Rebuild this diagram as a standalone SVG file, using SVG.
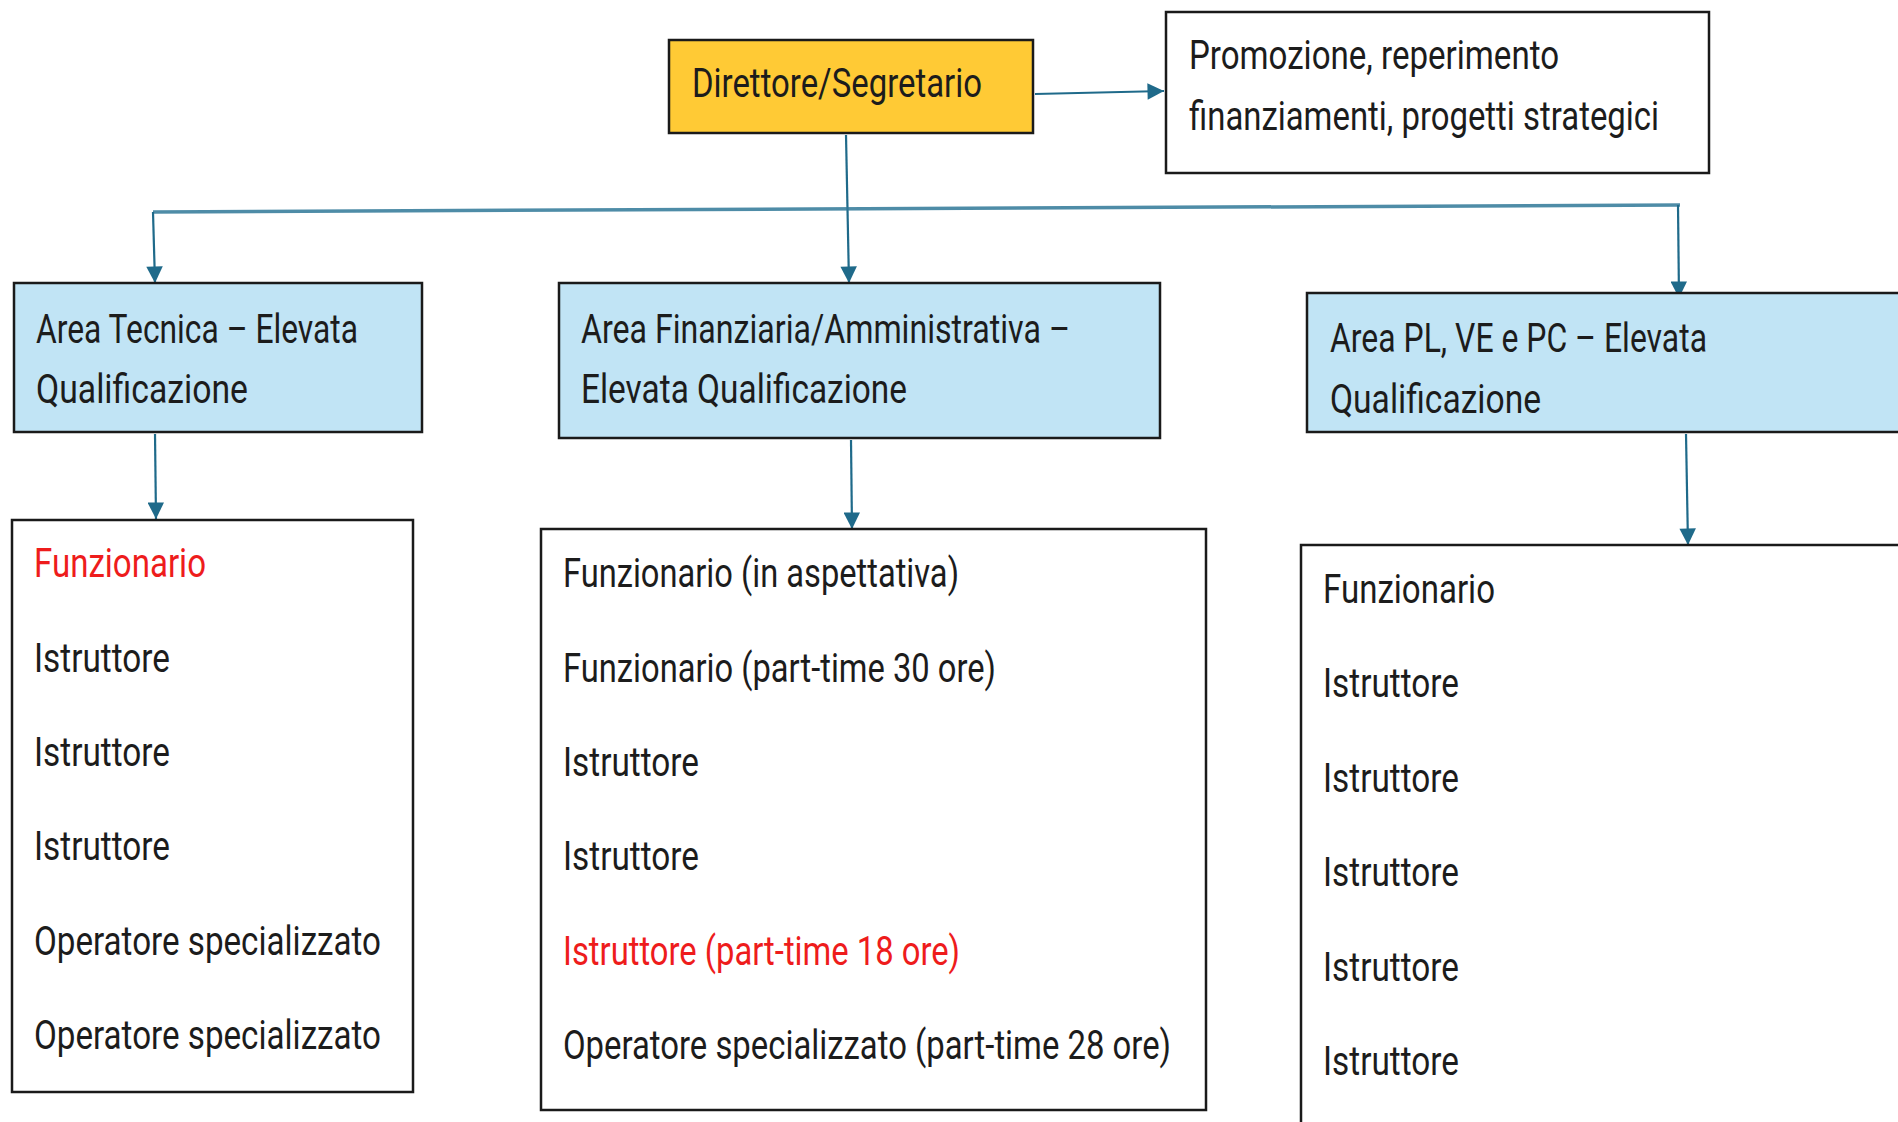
<svg xmlns="http://www.w3.org/2000/svg" width="1898" height="1122" viewBox="0 0 1898 1122">
<style>
.box{stroke:#1a1a1a;stroke-width:2.5}
.white{fill:#ffffff}
.blue{fill:#c1e4f5}
.yellow{fill:#ffca35}
.t{font-family:Roboto,"Liberation Sans",sans-serif;font-size:40px;fill:#1c1c1c}
.red{fill:#ee1c1c}
.conn{stroke:#1f6a8a;stroke-width:2.2;fill:none}
.bar{stroke:#2f7898;stroke-width:3.5;fill:none;opacity:0.85}
</style>
<defs>
<marker id="arr" viewBox="0 0 10 10" refX="10" refY="5" markerWidth="9" markerHeight="7.5" markerUnits="strokeWidth" orient="auto">
<path d="M0,0 L10,5 L0,10 z" fill="#1f6a8a"/>
</marker>
</defs>
<rect width="1898" height="1122" fill="#ffffff"/>
<g id="connectors">
<path class="conn" d="M1035,94 L1164,91" marker-end="url(#arr)"/>
<path class="conn" d="M846,135 L849,283" marker-end="url(#arr)"/>
<path class="bar" d="M153,212 L1680,205"/>
<path class="conn" d="M153,212 L155,283" marker-end="url(#arr)"/>
<path class="conn" d="M1678,205 L1679,298" marker-end="url(#arr)"/>
<path class="conn" d="M155,434 L156,519" marker-end="url(#arr)"/>
<path class="conn" d="M851,440 L852,529" marker-end="url(#arr)"/>
<path class="conn" d="M1686,434 L1688,545" marker-end="url(#arr)"/>
</g>
<g id="direttore">
<rect class="box yellow" x="669" y="40" width="364" height="93"/>
<text class="t" x="692" y="97" textLength="290" lengthAdjust="spacingAndGlyphs">Direttore/Segretario</text>
</g>
<g id="promozione">
<rect class="box white" x="1166" y="12" width="543" height="161"/>
<text class="t" x="1189" y="69" textLength="370" lengthAdjust="spacingAndGlyphs">Promozione, reperimento</text>
<text class="t" x="1189" y="130" textLength="470" lengthAdjust="spacingAndGlyphs">finanziamenti, progetti strategici</text>
</g>
<g id="area-tecnica">
<rect class="box blue" x="14" y="283" width="408" height="149"/>
<text class="t" x="36" y="343" textLength="322" lengthAdjust="spacingAndGlyphs">Area Tecnica – Elevata</text>
<text class="t" x="36" y="403" textLength="212" lengthAdjust="spacingAndGlyphs">Qualificazione</text>
</g>
<g id="area-finanziaria">
<rect class="box blue" x="559" y="283" width="601" height="155"/>
<text class="t" x="581" y="343" textLength="489" lengthAdjust="spacingAndGlyphs">Area Finanziaria/Amministrativa –</text>
<text class="t" x="581" y="403" textLength="326" lengthAdjust="spacingAndGlyphs">Elevata Qualificazione</text>
</g>
<g id="area-pl">
<rect class="box blue" x="1307" y="293" width="610" height="139"/>
<text class="t" x="1330" y="352" textLength="377" lengthAdjust="spacingAndGlyphs">Area PL, VE e PC – Elevata</text>
<text class="t" x="1330" y="413" textLength="211" lengthAdjust="spacingAndGlyphs">Qualificazione</text>
</g>
<g id="lista-tecnica">
<rect class="box white" x="12" y="520" width="401" height="572"/>
<text class="t red" x="34" y="577" textLength="172" lengthAdjust="spacingAndGlyphs">Funzionario</text>
<text class="t" x="34" y="672" textLength="136" lengthAdjust="spacingAndGlyphs">Istruttore</text>
<text class="t" x="34" y="766" textLength="136" lengthAdjust="spacingAndGlyphs">Istruttore</text>
<text class="t" x="34" y="860" textLength="136" lengthAdjust="spacingAndGlyphs">Istruttore</text>
<text class="t" x="34" y="955" textLength="347" lengthAdjust="spacingAndGlyphs">Operatore specializzato</text>
<text class="t" x="34" y="1049" textLength="347" lengthAdjust="spacingAndGlyphs">Operatore specializzato</text>
</g>
<g id="lista-finanziaria">
<rect class="box white" x="541" y="529" width="665" height="581"/>
<text class="t" x="563" y="587" textLength="396" lengthAdjust="spacingAndGlyphs">Funzionario (in aspettativa)</text>
<text class="t" x="563" y="682" textLength="433" lengthAdjust="spacingAndGlyphs">Funzionario (part-time 30 ore)</text>
<text class="t" x="563" y="776" textLength="136" lengthAdjust="spacingAndGlyphs">Istruttore</text>
<text class="t" x="563" y="870" textLength="136" lengthAdjust="spacingAndGlyphs">Istruttore</text>
<text class="t red" x="563" y="965" textLength="397" lengthAdjust="spacingAndGlyphs">Istruttore (part-time 18 ore)</text>
<text class="t" x="563" y="1059" textLength="608" lengthAdjust="spacingAndGlyphs">Operatore specializzato (part-time 28 ore)</text>
</g>
<g id="lista-pl">
<rect class="box white" x="1301" y="545" width="620" height="600"/>
<text class="t" x="1323" y="603" textLength="172" lengthAdjust="spacingAndGlyphs">Funzionario</text>
<text class="t" x="1323" y="697" textLength="136" lengthAdjust="spacingAndGlyphs">Istruttore</text>
<text class="t" x="1323" y="792" textLength="136" lengthAdjust="spacingAndGlyphs">Istruttore</text>
<text class="t" x="1323" y="886" textLength="136" lengthAdjust="spacingAndGlyphs">Istruttore</text>
<text class="t" x="1323" y="981" textLength="136" lengthAdjust="spacingAndGlyphs">Istruttore</text>
<text class="t" x="1323" y="1075" textLength="136" lengthAdjust="spacingAndGlyphs">Istruttore</text>
</g>
</svg>
